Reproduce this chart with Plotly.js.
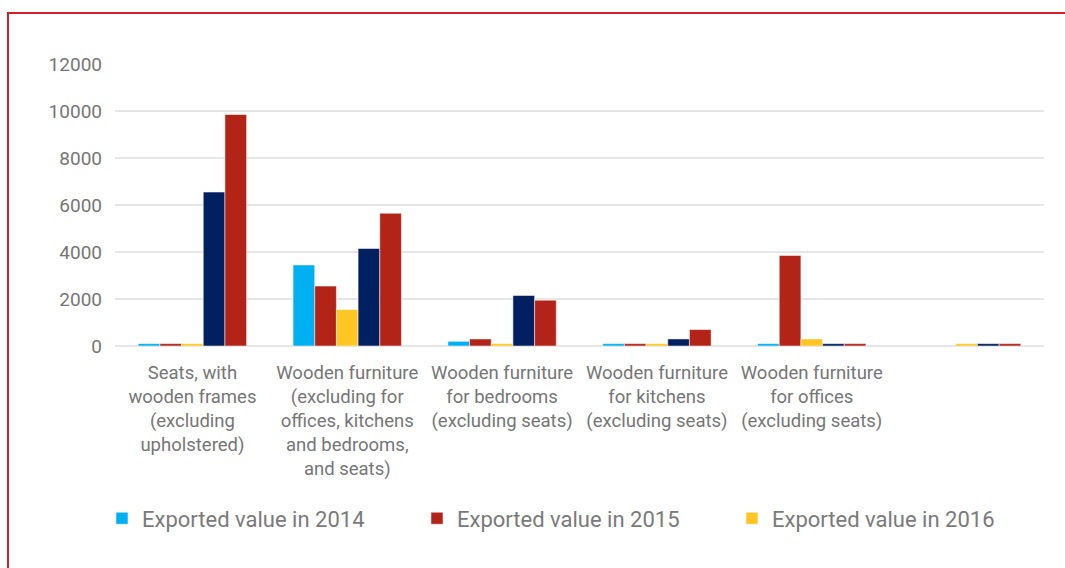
<!DOCTYPE html>
<html>
<head>
<meta charset="utf-8">
<script src="https://cdn.plot.ly/plotly-3.0.1.min.js"></script>
<style>
  html, body { margin: 0; padding: 0; background: #fff; }
  #frame { position: absolute; left: 7px; top: 12px; width: 1065px; height: 600px;
           border-top: 2px solid #d11f2b; border-left: 2px solid #d11f2b; box-sizing: border-box; }
  #chart { position: absolute; left: 0; top: 0; width: 1065px; height: 568px; }
</style>
</head>
<body>
<div id="frame"></div>
<div id="chart"></div>
<script>
const categories = [
  "Seats, with<br>wooden frames<br>(excluding<br>upholstered)",
  "Wooden furniture<br>(excluding for<br>offices, kitchens<br>and bedrooms,<br>and seats)",
  "Wooden furniture<br>for bedrooms<br>(excluding seats)",
  "Wooden furniture<br>for kitchens<br>(excluding seats)",
  "Wooden furniture<br>for offices<br>(excluding seats)",
  ""
];
const categoryIndex = [0, 1, 2, 3, 4, 5];
const seriesNames = ["Exported value in 2014", "Exported value in 2015", "Exported value in 2016", "Series 4", "Series 5"];
const value2014 = [100, 3450, 200, 100, 100, null];
const value2015 = [100, 2550, 300, 100, 3850, null];
const value2016 = [100, 1550, 100, 100, 300, 100];
const series4   = [6550, 4150, 2150, 300, 100, 100];
const series5   = [9850, 5650, 1950, 700, 100, 100];
const yTicks = [0, 2000, 4000, 6000, 8000, 10000, 12000];

const colors = ["#00b0f0", "#b22418", "#fdc623", "#002060", "#b22418"];
const values = [value2014, value2015, value2016, series4, series5];
const legendShown = [true, true, true, false, false];

const FONT = "Roboto, 'Liberation Sans Narrow', 'DejaVu Sans Condensed', sans-serif";

const traces = values.map((v, i) => ({
  type: "bar",
  x: categoryIndex,
  y: v,
  name: seriesNames[i],
  showlegend: legendShown[i],
  marker: { color: colors[i], line: { color: "rgba(255,255,255,0.5)", width: 1 } },
  hoverinfo: "y+name"
}));

const layout = {
  width: 1065,
  height: 568,
  paper_bgcolor: "rgba(0,0,0,0)",
  plot_bgcolor: "rgba(0,0,0,0)",
  margin: { l: 115, r: 21, t: 64, b: 222 },
  barmode: "group",
  bargap: 0.3,
  bargroupgap: 0,
  font: { family: FONT, color: "#767676", size: 19 },
  xaxis: {
    range: [-0.5, 5.5],
    tickmode: "array",
    tickvals: categoryIndex,
    ticktext: categories,
    showgrid: false,
    zeroline: false,
    showline: false,
    ticks: "",
    ticklabelstandoff: 13,
    tickfont: { family: FONT, size: 18.5, color: "#767676" },
    fixedrange: true
  },
  yaxis: {
    range: [0, 12000],
    tickmode: "array",
    tickvals: yTicks,
    ticktext: yTicks.map(String),
    showgrid: true,
    gridcolor: "#e6e6e6",
    gridwidth: 1.5,
    zeroline: true,
    zerolinecolor: "#e6e6e6",
    zerolinewidth: 2,
    showline: false,
    ticks: "",
    ticklabelstandoff: 12,
    tickfont: { family: FONT, size: 19, color: "#767676" },
    fixedrange: true
  },
  showlegend: true,
  legend: {
    orientation: "h",
    xref: "paper",
    yref: "paper",
    x: -0.014,
    xanchor: "left",
    y: -0.537,
    yanchor: "top",
    entrywidthmode: "pixels",
    entrywidth: 270,
    itemwidth: 30,
    font: { family: FONT, size: 22, color: "#7a7a7a" },
    bgcolor: "rgba(0,0,0,0)",
    traceorder: "normal"
  }
};

Plotly.newPlot("chart", traces, layout, { displayModeBar: false, staticPlot: false });
</script>
</body>
</html>
